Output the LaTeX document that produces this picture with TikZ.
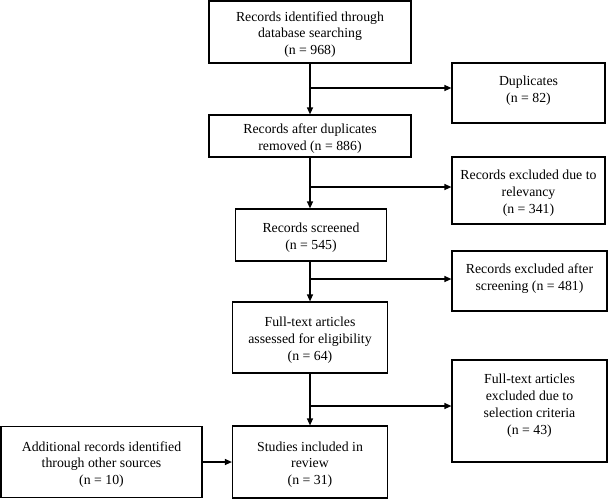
\documentclass[tikz,border=0pt]{standalone}
\usepackage{fontspec}
\setmainfont{Liberation Serif}
\usetikzlibrary{arrows.meta}
\begin{document}
\begin{tikzpicture}[x=1pt,y=-1pt,
  box/.style={draw, line width=1.2pt, inner sep=0pt},
  txt/.style={inner sep=0pt, align=center, yshift=-2.5pt, font=\fontsize{13.8}{16.8}\selectfont},
  arr/.style={line width=1.2pt, -{Triangle[length=7pt,width=6pt]}}]
\useasboundingbox (0,0) rectangle (609,499);
% main column
\node[box, minimum width=202pt, minimum height=62pt] (id) at (310,32) {};
\node[txt] (idt) at (id) {Records identified through\\database searching\\(n = 968)};
\node[box, minimum width=202pt, minimum height=42pt] (rem) at (310,136) {};
\node[txt] (remt) at (rem) {Records after duplicates\\removed (n = 886)};
\node[box, minimum width=151pt, minimum height=52pt] (scr) at (311,235) {};
\node[txt] (scrt) at (scr) {Records screened\\(n = 545)};
\node[box, minimum width=155pt, minimum height=71pt] (full) at (310,337.5) {};
\node[txt] (fullt) at (full) {Full-text articles\\assessed for eligibility\\(n = 64)};
\node[box, minimum width=155pt, minimum height=72pt] (inc) at (310,462) {};
\node[txt] (inct) at (inc) {Studies included in\\review\\(n = 31)};
\node[box, minimum width=201pt, minimum height=71pt] (add) at (101.5,462) {};
\node[txt] (addt) at (add) {Additional records identified\\through other sources\\(n = 10)};
% right column
\node[box, minimum width=153pt, minimum height=60pt] (dup) at (528.5,93) {};
\node[txt] (dupt) at (528.5,88.5) {Duplicates\\(n = 82)};
\node[box, minimum width=153pt, minimum height=67pt] (rel) at (528.5,190.5) {};
\node[txt] (relt) at (rel) {Records excluded due to\\relevancy\\(n = 341)};
\node[box, minimum width=155pt, minimum height=60pt] (exs) at (529.5,281) {};
\node[txt] (exst) at (529.5,276.5) {Records excluded after\\screening (n = 481)};
\node[box, minimum width=155pt, minimum height=102pt] (crit) at (529.5,411) {};
\node[txt] (critt) at (529.5,403) {Full-text articles\\excluded due to\\selection criteria\\(n = 43)};
% branch points
\coordinate (b1) at (310,88);
\coordinate (b2) at (310,187);
\coordinate (b3) at (310,279);
\coordinate (b4) at (310,406);
% vertical arrows
\draw[arr] (id.south) -- (rem.north);
\draw[arr] (rem.south) -- (rem.south |- scr.north);
\draw[arr] (scr.south -| rem.south) -- (full.north);
\draw[arr] (full.south) -- (inc.north);
% horizontal arrows
\draw[arr] (b1) -- (b1 -| dup.west);
\draw[arr] (b2) -- (b2 -| rel.west);
\draw[arr] (b3) -- (b3 -| exs.west);
\draw[arr] (b4) -- (b4 -| crit.west);
\draw[arr] (add.east) -- (inc.west);
\end{tikzpicture}
\end{document}
